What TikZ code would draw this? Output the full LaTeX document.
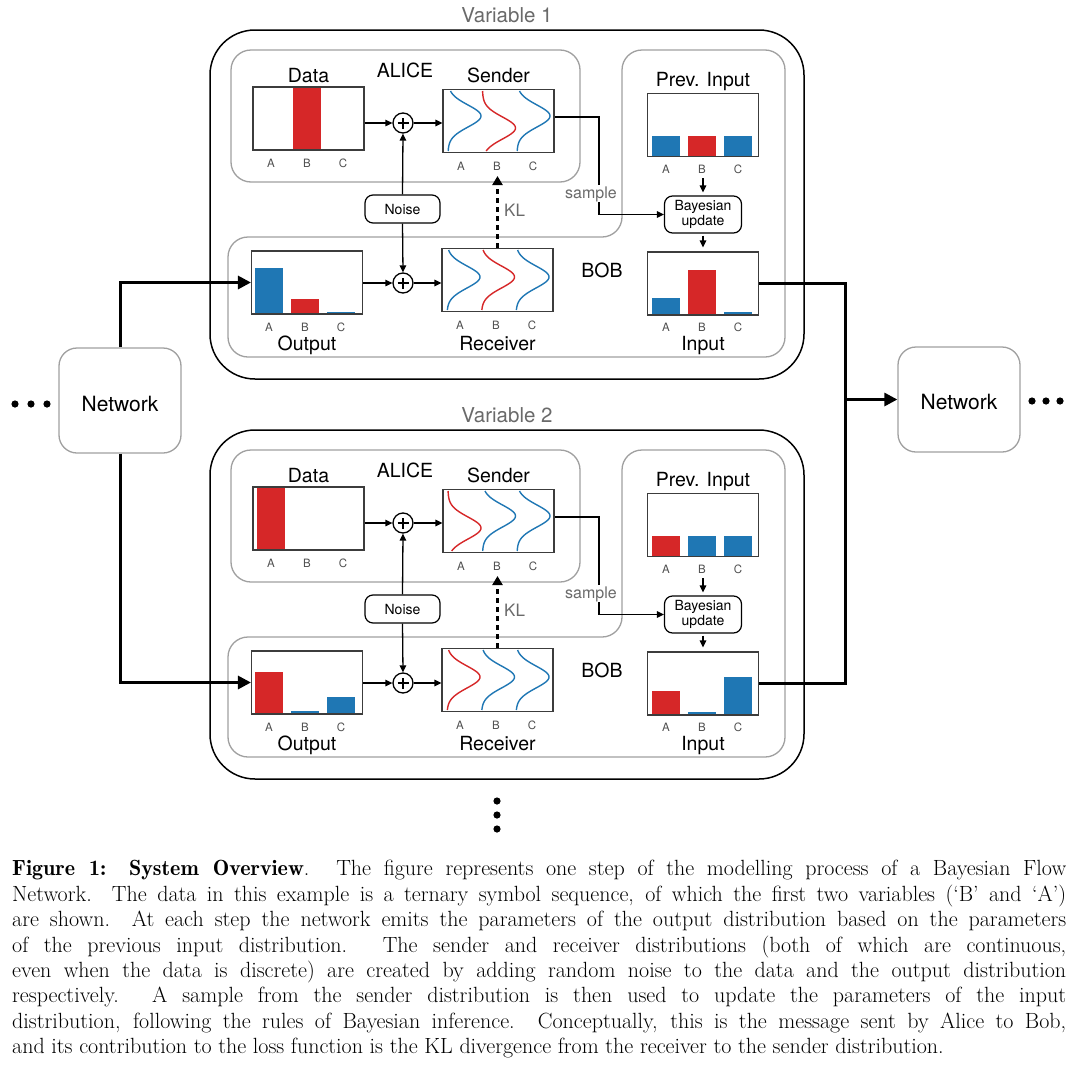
\documentclass[tikz,border=0pt]{standalone}
\usepackage{fontspec}
\setsansfont{TeX Gyre Heros}
\newfontface\capbold{lmromandemi10-regular}[Extension=.otf]
\usetikzlibrary{arrows.meta}
\definecolor{bfnblue}{HTML}{1F77B4}
\definecolor{bfnred}{HTML}{D62728}
\definecolor{boxgray}{HTML}{A0A0A0}
\definecolor{titlegray}{HTML}{6A6A6A}
\definecolor{framegray}{HTML}{3C3C3C}
\definecolor{lblgray}{HTML}{505050}
\tikzset{
 panel/.style={draw=framegray, line width=1.1pt, minimum width=111pt, minimum height=63pt, inner sep=0pt},
 ttl/.style={font=\sffamily\fontsize{19.5}{22}\selectfont, anchor=base, inner sep=0pt},
 vartitle/.style={font=\sffamily\fontsize{20.5}{23}\selectfont, text=titlegray, anchor=base, inner sep=0pt},
 abc/.style={font=\sffamily\fontsize{11.5}{13}\selectfont, text=lblgray, anchor=base, inner sep=0pt},
 smallbox/.style={draw, line width=1.2pt, rounded corners=8pt, font=\sffamily\fontsize{14}{13}\selectfont, align=center, inner sep=0pt},
 plusc/.style={circle, draw, line width=1.3pt, minimum size=20pt, inner sep=0pt},
 conn/.style={line width=1.3pt, -{Triangle[length=7pt,width=6.5pt]}},
 thickc/.style={line width=3pt},
 thickarrow/.style={line width=3pt, -{Triangle[length=13pt,width=13pt]}},
 klarrow/.style={line width=2.5pt, dash pattern=on 5pt off 4pt, -{Triangle[length=9pt,width=10pt]}},
 graybox/.style={draw=boxgray, line width=1.3pt, rounded corners=20pt},
 outerbox/.style={draw=black, line width=1.5pt, rounded corners=45pt},
 netbox/.style={draw=boxgray, line width=1.3pt, rounded corners=18pt, minimum width=122pt, minimum height=105pt, inner sep=0pt},
 nettext/.style={font=\sffamily\fontsize{21}{24}\selectfont, anchor=base, inner sep=0pt},
 gtext/.style={text=titlegray, anchor=base, inner sep=1pt},
 curve/.style={line width=1.4pt},
}
% #1 offset, #2 suffix, #3 red index, #4 output heights, #5 input heights, #6 title
\newcommand\varblock[6]{%
\begin{scope}[shift={(0,#1)}]
\node[vartitle] (vt#2) at (507,22) {#6};
\draw[outerbox] (210,30) rectangle (804,379);
\draw[graybox] (231,50) rectangle (580,182);
\draw[graybox] (622,150) -- (622,50) -- (785,50) -- (785,357) -- (228,357) -- (228,237) -- (622,237) -- cycle;
\node[ttl] (alice#2) at (405,77) {ALICE};
\node[ttl] (bob#2) at (602,277) {BOB};
% Data
\fill[bfnred] ({257+36*#3},87) rectangle ++(28,63);
\node[panel] (d#2) at (308.5,118.5) {};
\node[ttl] at (308.5,82) {Data};
\foreach \L [count=\k from 0] in {A,B,C} {\node[abc] at ({271+36*\k},167) {\L};}
% Sender
\node[panel] (s#2) at (498.5,121) {};
\node[ttl] at (498.5,82) {Sender};
\foreach \k in {0,1,2} {%
  \ifnum\k=#3\relax\def\bc{bfnred}\def\mu{128}\else\def\bc{bfnblue}\def\mu{116}\fi
  \draw[curve,\bc] plot[domain=91:151, samples=50, variable=\t] ({448+34.5*\k+33*exp(-((\t-\mu)^2)/242)}, \t);
}
\foreach \L [count=\k from 0] in {A,B,C} {\node[abc] at ({461+36*\k},170) {\L};}
% Output
\foreach \h [count=\k from 0] in {#4} {%
  \ifnum\k=#3\relax\def\bc{bfnred}\else\def\bc{bfnblue}\fi
  \fill[\bc] ({255+36*\k},314) rectangle ++(28,-\h);
}
\node[panel] (o#2) at (307,282.5) {};
\node[ttl] at (307,350) {Output};
\foreach \L [count=\k from 0] in {A,B,C} {\node[abc] at ({269+36*\k},331) {\L};}
% Receiver
\node[panel] (r#2) at (497.5,280) {};
\node[ttl] at (497.5,350) {Receiver};
\foreach \k in {0,1,2} {%
  \ifnum\k=#3\relax\def\bc{bfnred}\else\def\bc{bfnblue}\fi
  \draw[curve,\bc] plot[domain=250:310, samples=50, variable=\t] ({447+34.5*\k+33*exp(-((\t-277)^2)/242)}, \t);
}
\foreach \L [count=\k from 0] in {A,B,C} {\node[abc] at ({460+36*\k},329) {\L};}
% Prev. Input
\foreach \k in {0,1,2} {%
  \ifnum\k=#3\relax\def\bc{bfnred}\else\def\bc{bfnblue}\fi
  \fill[\bc] ({652+36*\k},156.5) rectangle ++(28,-21);
}
\node[panel] (p#2) at (703,125) {};
\node[ttl] at (703,86) {Prev. Input};
\foreach \L [count=\k from 0] in {A,B,C} {\node[abc] at ({666+36*\k},173) {\L};}
% Input
\foreach \h [count=\k from 0] in {#5} {%
  \ifnum\k=#3\relax\def\bc{bfnred}\else\def\bc{bfnblue}\fi
  \fill[\bc] ({652+36*\k},315) rectangle ++(28,-\h);
}
\node[panel] (i#2) at (703,283.5) {};
\node[ttl] at (703,350) {Input};
\foreach \L [count=\k from 0] in {A,B,C} {\node[abc] at ({666+36*\k},331) {\L};}
% plus circles and noise
\node[plusc] (pa#2) at (403,123) {};
\node[plusc] (pb#2) at (403,283) {};
\foreach \pp in {pa#2,pb#2} {%
  \draw[line width=1.3pt] ([xshift=-5.5pt]\pp.center) -- ([xshift=5.5pt]\pp.center);
  \draw[line width=1.3pt] ([yshift=-5.5pt]\pp.center) -- ([yshift=5.5pt]\pp.center);
}
\node[smallbox, minimum width=75pt, minimum height=28pt] (nz#2) at (402.5,209) {Noise};
\node[smallbox, minimum width=77pt, minimum height=37pt] (bay#2) at (703,214.5) {Bayesian\\update};
% thin connectors
\draw[conn] (d#2.east |- pa#2) -- (pa#2.west);
\draw[conn] (pa#2.east) -- (s#2.west |- pa#2);
\draw[conn] (nz#2.north) -- (pa#2.south);
\draw[conn] (nz#2.south) -- (pb#2.north);
\draw[conn] (o#2.east |- pb#2) -- (pb#2.west);
\draw[conn] (pb#2.east) -- (r#2.west |- pb#2);
\coordinate (sm#2) at (599,214.5);
\draw[conn] ([yshift=4pt]s#2.east) -| (sm#2) -- (bay#2.west);
\node[gtext, fill=white, font=\sffamily\fontsize{16}{18}\selectfont] (smt#2) at (591,198) {sample};
\coordinate (pv#2) at (703,178);
\draw[conn, shorten >=3pt] (pv#2) -- (bay#2.north);
\draw[conn, shorten <=2pt, shorten >=4pt] (bay#2.south) -- (i#2.north);
\coordinate (kl#2) at (497.5,176);
\draw[klarrow] (r#2.north) -- (kl#2);
\node[gtext, anchor=base west, inner sep=0pt, font=\sffamily\fontsize{17}{19}\selectfont] (klt#2) at (504,216) {KL};
\end{scope}}

\begin{document}
\begin{tikzpicture}[x=1pt,y=-1pt]
\useasboundingbox (0,0) rectangle (1080,1074);
\fill[white] (0,0) rectangle (1080,1074);

\varblock{0}{1}{1}{46,15,2}{17,45,3}{Variable 1}
\varblock{400}{2}{0}{42,3,17}{24,3,38}{Variable 2}

% networks
\node[netbox] (netL) at (120,400.5) {};
\node[nettext] at (120,411) {Network};
\node[netbox] (netR) at (959,399.5) {};
\node[nettext] at (959,409) {Network};
\foreach \x in {15,31,47} {\fill (\x,404) circle (3.6);}
\foreach \x in {1032,1046,1060} {\fill (\x,401) circle (3.6);}
\foreach \y in {801,815,829} {\fill (497,\y) circle (3.6);}

% thick connectors
\draw[thickarrow] (netL.north) |- (o1.west);
\draw[thickarrow] (netL.south) |- (o2.west);
\coordinate (jn) at (845,683.5);
\draw[thickc] (i1.east) -| (jn) -- (i2.east);
\draw[thickarrow] (jn |- netR.west) -- (netR.west);

% caption
\node[anchor=north west, inner sep=0pt, text width=1054pt, align=justify,
      font=\fontsize{22}{25.45}\selectfont] (cap) at (12,860) {%
\tolerance=9999\hyphenpenalty=10000\noindent
{\capbold Figure 1: System Overview}. The figure represents one step of the modelling process of a Bayesian Flow\linebreak
Network. The data in this example is a ternary symbol sequence, of which the first two variables (`B' and `A')\linebreak
are shown. At each step the network emits the parameters of the output distribution based on the parameters\linebreak
of the previous input distribution. The sender and receiver distributions (both of which are continuous,\linebreak
even when the data is discrete) are created by adding random noise to the data and the output distribution\linebreak
respectively. A sample from the sender distribution is then used to update the parameters of the input\linebreak
distribution, following the rules of Bayesian inference. Conceptually, this is the message sent by Alice to Bob,\linebreak
and its contribution to the loss function is the KL divergence from the receiver to the sender distribution.};
\end{tikzpicture}
\end{document}
